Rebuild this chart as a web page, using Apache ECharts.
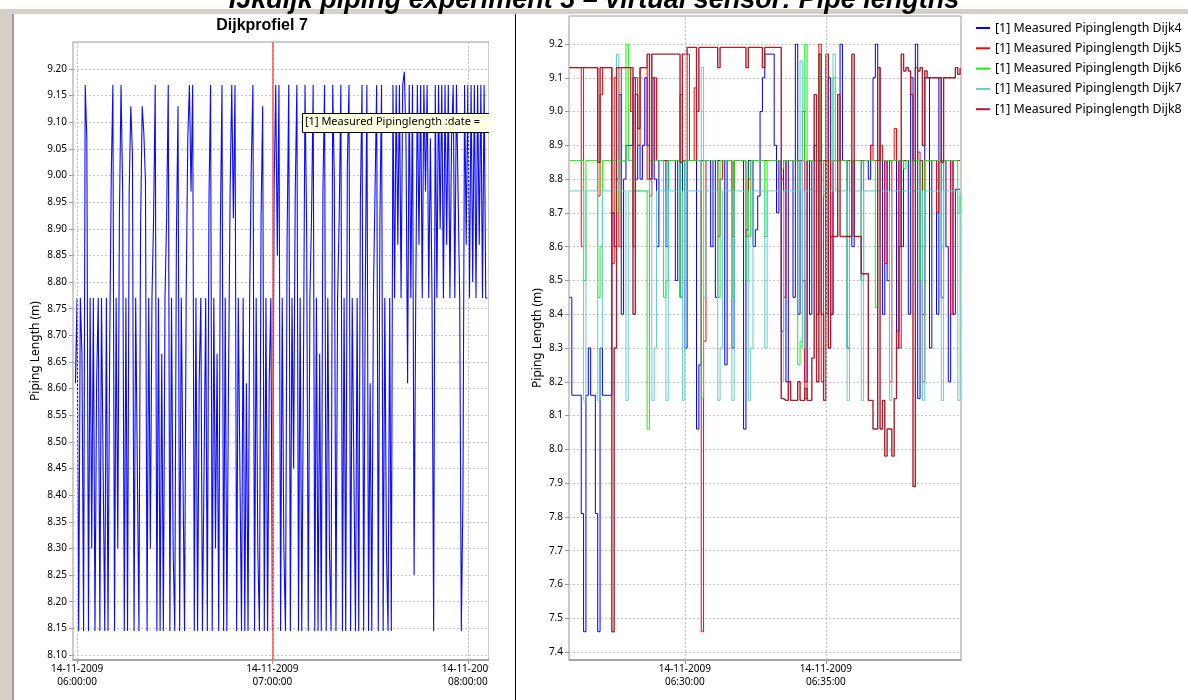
<!DOCTYPE html>
<html><head><meta charset="utf-8">
<script src="https://cdn.jsdelivr.net/npm/echarts@6/dist/echarts.min.js"></script>
<style>html,body{margin:0;padding:0;background:#fff}#c{width:1188px;height:700px}</style>
</head><body><div id="c"></div><script>
// ---------- DATA ----------
const mainTitle = 'IJkdijk piping experiment 3 \u2013 virtual sensor: Pipe lengths';
const leftTitle = 'Dijkprofiel 7';
const yName = 'Piping Length (m)';
const leftSeriesName = '[1] Measured Pipinglength';
const tooltipText = '[1] Measured Pipinglength :date =';
const rightNames = ['[1] Measured Pipinglength Dijk4','[1] Measured Pipinglength Dijk5','[1] Measured Pipinglength Dijk6','[1] Measured Pipinglength Dijk7','[1] Measured Pipinglength Dijk8'];

// left: one sample every 30 s from 05:59:30
const leftValues = [
8.61,8.77,8.145,8.77,8.665,8.145,9.17,9.07,8.145,8.77,8.30,8.77,8.145,8.61,8.77,8.145,8.77,8.45,8.145,8.77,
8.145,8.665,9.00,9.17,8.145,8.77,8.30,8.92,9.17,8.97,8.145,8.77,8.145,8.97,9.13,9.04,8.145,8.77,8.45,8.145,
8.90,9.13,9.08,8.99,8.145,8.77,8.30,8.77,8.92,9.17,8.145,8.77,8.145,8.665,8.145,8.77,8.92,9.17,8.145,8.77,
8.30,8.145,8.88,9.13,8.145,8.77,8.45,8.145,8.77,9.07,9.17,8.97,9.17,8.145,8.77,8.145,8.61,8.77,8.145,8.45,
8.77,8.145,8.95,9.17,8.145,8.77,8.30,8.665,8.145,8.90,9.17,8.145,8.77,8.145,8.61,8.97,9.17,8.92,9.17,8.145,
8.77,8.45,8.145,8.77,8.145,8.61,8.145,8.77,9.02,9.17,8.145,8.77,8.30,8.145,8.92,9.13,8.145,8.77,8.145,8.61,
8.77,8.145,8.97,9.17,8.85,9.17,8.145,8.77,8.30,8.145,8.88,9.17,8.145,8.77,8.45,8.97,9.17,8.145,8.77,8.145,
8.61,9.17,8.90,8.145,8.77,8.92,9.17,8.145,8.77,8.145,8.665,8.145,8.97,9.17,8.145,8.77,8.30,8.145,9.17,8.99,
8.145,8.77,8.92,9.17,8.145,8.77,8.145,9.02,9.17,8.145,8.77,8.45,8.145,8.77,8.145,8.95,9.17,8.145,8.77,9.17,
8.145,8.61,8.145,8.77,8.97,9.17,8.145,8.92,9.17,8.145,8.77,8.30,8.145,8.77,8.145,9.17,8.77,9.17,8.87,9.17,
8.77,9.17,9.195,9.07,8.61,9.17,8.77,9.17,8.25,8.77,9.17,8.87,9.17,8.77,9.17,8.97,9.17,8.77,9.07,8.77,
8.145,9.17,8.77,9.17,8.90,9.17,8.77,9.17,8.87,9.17,8.77,9.07,9.17,8.77,9.17,8.97,8.77,8.145,8.40,9.17,
8.87,9.17,8.77,9.17,8.80,9.17,8.77,9.17,8.87,9.17,8.77,9.17,8.77,8.77
];

// right: one sample every 5 s from 06:25:55
const dijk4 = [
8.45,8.16,8.16,8.16,8.16,7.81,7.46,8.16,8.30,8.16,
8.16,7.81,7.46,8.30,8.16,8.16,8.16,8.16,8.70,8.60,
8.80,9.05,8.40,8.80,8.90,8.90,8.90,9.10,8.80,8.90,
8.80,8.90,9.10,8.90,8.80,9.10,8.80,8.60,8.855,8.855,
8.855,8.60,8.855,8.855,8.855,8.50,8.855,8.45,8.855,8.30,
8.855,8.855,8.855,8.855,8.06,8.25,8.855,8.855,8.855,8.855,
8.60,8.855,8.45,8.855,8.855,8.855,8.25,8.855,8.855,8.30,
8.855,8.855,8.855,8.855,8.06,8.65,8.855,8.855,8.60,8.65,
8.75,9.00,9.10,9.17,9.17,9.17,9.17,8.90,8.70,8.855,
8.35,8.855,8.20,8.855,8.855,8.45,9.20,8.40,8.855,8.50,
8.20,8.855,8.40,8.855,8.90,8.40,8.855,8.855,8.855,8.40,
9.10,8.40,8.855,8.855,8.855,9.20,8.855,8.855,8.30,8.855,
8.60,8.855,8.855,8.855,8.50,8.855,8.855,8.80,8.90,9.10,
9.20,9.13,8.855,8.40,8.855,8.50,8.855,8.855,8.855,8.30,
8.855,8.60,8.855,8.855,8.40,9.10,8.855,9.20,8.15,8.855,
8.40,9.10,9.10,8.30,8.855,8.855,8.40,9.10,8.45,8.855,
8.60,8.20,8.855,8.40,8.77,8.77,8.77];
const dijk5 = [
9.13,9.13,9.13,9.13,9.13,8.60,9.13,9.13,9.13,9.13,
9.13,9.13,8.75,9.05,9.13,9.13,9.13,9.13,8.55,9.10,
9.13,8.60,9.13,9.13,9.13,9.13,9.00,8.60,9.10,8.90,
9.13,9.13,9.13,8.80,8.75,8.855,9.10,8.855,8.855,8.855,
8.855,8.855,8.855,8.855,8.855,8.855,8.855,9.05,8.855,8.855,
9.17,8.855,8.855,9.07,8.855,8.855,7.46,8.32,8.855,8.855,
8.855,8.855,8.855,8.63,8.80,8.855,8.855,8.855,8.855,8.63,
8.855,8.855,8.855,8.855,8.855,8.63,8.80,8.855,8.855,8.855,
8.855,8.855,8.855,8.855,8.855,8.855,8.855,8.855,8.855,8.855,
8.80,8.45,8.855,8.855,8.855,8.855,8.855,8.855,8.855,9.00,
8.15,8.855,8.855,8.855,8.855,8.855,9.20,8.20,8.855,8.855,
8.855,8.40,8.855,8.855,8.855,8.855,8.855,8.855,8.855,8.855,
8.855,8.855,8.855,8.855,8.855,8.855,8.855,8.855,8.90,8.855,
8.855,8.855,8.90,8.855,8.55,8.855,8.20,8.855,8.95,8.855,
8.30,8.855,8.855,8.855,8.855,8.855,8.855,8.855,8.88,8.855,
8.20,8.855,8.855,8.855,8.855,8.855,8.70,8.855,8.855,8.855,
8.855,8.855,8.40,8.855,8.855,8.855,8.855];
const dijk6 = [
8.855,8.855,8.855,8.855,8.855,8.855,8.50,8.855,8.855,8.855,
8.855,8.855,8.45,8.60,8.855,8.855,8.855,8.855,8.855,8.855,
8.70,8.855,8.855,8.855,9.20,8.855,8.855,8.765,8.765,8.765,
8.765,8.765,8.765,8.06,8.855,8.855,8.855,8.855,8.855,8.855,
8.45,8.50,8.855,8.855,8.855,8.855,8.855,8.45,8.50,8.855,
8.855,8.855,8.855,8.855,8.855,8.855,8.15,8.855,8.855,8.855,
8.855,8.855,8.855,8.45,8.855,8.855,8.855,8.855,8.855,8.45,
8.855,8.855,8.855,8.855,8.855,8.50,8.63,8.855,8.855,8.855,
8.855,8.855,8.855,8.63,8.855,8.855,8.855,8.855,8.855,8.855,
8.83,8.855,8.855,8.855,8.855,8.855,8.855,8.25,8.32,8.855,
9.20,8.855,8.855,8.855,8.855,8.855,9.17,8.855,8.75,8.855,
8.855,8.855,9.10,8.855,8.855,8.855,8.855,8.855,8.30,8.855,
8.855,8.855,8.855,8.855,8.50,8.855,8.855,8.855,8.855,8.855,
8.42,8.60,8.855,8.855,8.855,8.855,8.855,8.855,8.855,8.855,
8.855,8.855,8.83,8.855,8.855,8.855,8.855,8.855,8.855,8.50,
8.60,8.855,8.855,8.855,8.855,8.855,8.855,8.855,8.60,8.855,
8.855,8.855,8.855,8.855,8.855,8.70,8.75];
const dijk7 = [
8.765,8.765,8.765,8.765,8.765,8.765,8.145,8.765,8.765,8.765,
8.765,8.765,8.145,8.30,8.765,8.765,8.765,8.765,8.765,8.765,
9.17,8.765,8.765,8.765,8.145,8.765,8.765,8.765,8.765,8.765,
8.765,8.765,8.765,8.765,9.17,8.145,8.30,8.765,8.765,8.765,
8.765,8.145,8.765,8.765,8.765,8.765,8.765,8.765,8.145,8.765,
8.765,8.765,8.765,8.765,8.765,8.765,9.13,8.45,8.765,8.765,
8.765,8.765,8.765,8.145,8.30,8.765,8.765,8.765,8.765,8.145,
8.765,8.765,8.765,8.765,8.765,8.765,8.145,8.30,8.765,8.765,
8.765,8.765,8.765,8.30,8.765,8.765,8.765,8.765,8.765,8.765,
8.20,8.765,8.765,8.765,8.765,8.765,8.765,8.765,9.15,8.30,
8.765,8.765,8.765,8.765,8.765,8.765,8.765,8.765,8.765,8.765,
8.765,8.765,9.17,8.765,8.765,8.765,8.765,8.765,8.145,8.765,
8.765,8.765,8.765,8.765,8.145,8.765,8.765,8.765,8.765,8.765,
8.765,8.765,8.765,8.765,8.765,8.765,8.145,8.765,8.765,8.765,
8.765,8.765,8.765,8.765,8.765,8.765,8.765,8.765,8.765,8.765,
8.145,8.765,8.765,8.765,8.765,8.765,8.765,8.765,8.145,8.765,
8.765,8.765,8.765,8.765,8.765,8.145,8.765];
const dijk8 = [
9.13,9.13,9.13,9.13,9.13,9.13,9.13,9.13,9.13,9.13,
9.13,9.13,8.85,9.13,9.13,9.13,9.13,9.13,7.46,8.30,
9.13,9.13,9.13,9.13,9.13,9.13,9.13,8.40,9.05,8.95,
9.13,9.13,9.13,9.17,8.80,9.17,9.17,9.17,9.17,9.17,
9.17,9.17,9.17,9.17,9.17,9.17,9.17,8.85,9.17,9.17,
9.19,9.19,9.19,9.19,9.00,9.19,9.19,9.19,9.19,9.19,
9.19,9.19,9.19,9.13,9.19,9.19,9.19,9.19,9.19,9.19,
9.19,9.19,9.19,9.19,9.19,9.13,9.19,9.19,9.19,9.19,
9.19,9.19,9.13,9.19,9.19,9.19,9.19,9.19,9.19,9.19,
8.15,8.145,8.145,8.20,8.145,8.145,8.145,8.20,8.145,8.145,
8.18,8.145,8.145,8.27,9.05,8.20,9.17,8.40,8.145,9.17,
8.30,8.63,8.63,8.63,9.05,8.63,8.63,8.63,8.63,8.63,
9.17,8.63,8.63,8.63,8.52,8.52,8.52,8.145,8.145,8.06,
8.06,9.13,8.06,8.145,7.98,8.06,8.06,7.98,8.15,8.35,
8.60,9.17,9.12,9.13,9.12,9.05,7.89,9.13,9.12,9.13,
8.90,9.12,9.10,9.10,9.10,9.10,9.10,9.10,8.85,9.10,
9.10,9.10,9.10,9.10,9.13,9.11,9.13];
const rightValues = [dijk4, dijk5, dijk6, dijk7, dijk8];
const rightColors = ['#0000ff', '#ff0000', '#00ff00', '#66cccc', '#a8202e'];
const rightWidths = [1, 1, 1, 1, 1.4];

// ---------- helpers ----------
const T = (h, m, s) => new Date(2009, 10, 14, h, m, s).getTime();
const leftStart = T(5, 59, 30), leftStep = 30000;
const rightStart = T(6, 25, 55), rightStep = 5000;
const leftTicks = [T(6, 0, 0), T(7, 0, 0), T(8, 0, 0)];
const rightTicks = [T(6, 30, 0), T(6, 35, 0)];
const cursorTime = T(7, 0, 0);
const toPairs = (start, step, vals) => vals.map((v, i) => [start + i * step, v]);
const p2 = n => String(n).padStart(2, '0');
const fmtTime = v => { const d = new Date(v); return p2(d.getDate()) + '-' + p2(d.getMonth() + 1) + '-' + d.getFullYear() + '\n' + p2(d.getHours()) + ':' + p2(d.getMinutes()) + ':' + p2(d.getSeconds()); };

const FONT = 'Noto Sans';
const grey = '#999999';
const dottedStyle = { color: '#c4c4c4', type: [2, 2], width: 1 };

const L = { left: 73, width: 416, frameTop: 42, frameH: 618, top: 69, h: 586, min: T(5, 58, 45), max: T(8, 6, 30) };
const R = { left: 569, width: 392, frameTop: 16, frameH: 644, top: 44, h: 608, min: T(6, 25, 54), max: T(6, 39, 47) };

function frameX(cfg, gi, ticks) {
  return { type: 'value', gridIndex: gi, min: cfg.min, max: cfg.max, scale: true,
    axisLine: { show: true, onZero: false, lineStyle: { color: grey, width: 1.5 } },
    axisTick: { show: true, length: 4, lineStyle: { color: grey }, customValues: ticks },
    splitLine: { show: false },
    axisLabel: { customValues: ticks, formatter: fmtTime, color: '#000', fontFamily: FONT, fontSize: 10, lineHeight: 13, margin: 3 } };
}
function dataX(cfg, gi) { return { type: 'value', gridIndex: gi, min: cfg.min, max: cfg.max, scale: true, show: false }; }
function frameY(gi, gap) {
  return { type: 'value', gridIndex: gi, min: 0, max: 1, show: true,
    name: yName, nameLocation: 'middle', nameRotate: 90, nameGap: gap,
    nameTextStyle: { fontFamily: FONT, fontSize: 12, color: '#000' },
    axisLine: { show: false }, axisTick: { show: false }, axisLabel: { show: false }, splitLine: { show: false } };
}
function dataY(gi, min, max, iv, dec) {
  return { type: 'value', gridIndex: gi, min, max, interval: iv,
    axisLine: { show: false }, axisTick: { show: true, length: 4, lineStyle: { color: grey } },
    splitLine: { show: true, lineStyle: dottedStyle },
    axisLabel: { formatter: v => v.toFixed(dec), color: '#000', fontFamily: FONT, fontSize: 10, margin: 6 } };
}
const vLines = ticks => ({ silent: true, symbol: 'none', label: { show: false }, lineStyle: dottedStyle, data: ticks.map(t => ({ xAxis: t })) });

const series = [
  { type: 'line', xAxisIndex: 0, yAxisIndex: 0, data: [], silent: true, markLine: vLines(leftTicks) },
  { type: 'line', name: leftSeriesName, xAxisIndex: 1, yAxisIndex: 1, step: 'end', showSymbol: false, symbol: 'none',
    lineStyle: { color: '#0a0aff', width: 1.1 }, itemStyle: { color: '#0a0aff' }, data: toPairs(leftStart, leftStep, leftValues) },
  { type: 'line', xAxisIndex: 0, yAxisIndex: 0, data: [], silent: true, z: 5,
    markLine: { silent: true, symbol: 'none', label: { show: false }, lineStyle: { color: '#ff5050', type: 'solid', width: 1.5 }, data: [{ xAxis: cursorTime }] } },
  { type: 'line', xAxisIndex: 2, yAxisIndex: 2, data: [], silent: true, markLine: vLines(rightTicks) }
];
rightNames.forEach((n, k) => series.push({ type: 'line', name: n, xAxisIndex: 3, yAxisIndex: 3, step: 'end', showSymbol: false, symbol: 'none',
  lineStyle: { color: rightColors[k], width: rightWidths[k] }, itemStyle: { color: rightColors[k] }, data: toPairs(rightStart, rightStep, rightValues[k]) }));

const option = {
  animation: false,
  backgroundColor: '#ffffff',
  grid: [
    { left: L.left, top: L.frameTop, width: L.width, height: L.frameH, show: true, borderColor: grey, borderWidth: 1 },
    { left: L.left, top: L.top, width: L.width, height: L.h, show: false },
    { left: R.left, top: R.frameTop, width: R.width, height: R.frameH, show: true, borderColor: grey, borderWidth: 1 },
    { left: R.left, top: R.top, width: R.width, height: R.h, show: false }
  ],
  xAxis: [frameX(L, 0, leftTicks), dataX(L, 1), frameX(R, 2, rightTicks), dataX(R, 3)],
  yAxis: [frameY(0, 31), dataY(1, 8.1, 9.2, 0.05, 2), frameY(2, 25), dataY(3, 7.4, 9.2, 0.1, 1)],
  legend: { data: rightNames, orient: 'vertical', left: 976, top: 22, padding: 0, itemWidth: 14, itemHeight: 2, itemGap: 8.3, icon: 'rect',
    textStyle: { fontFamily: FONT, fontSize: 12.4, color: '#000' } },
  series,
  graphic: [
    { type: 'rect', z: 100, shape: { x: 0, y: 9, width: 1188, height: 5 }, style: { fill: '#d4d0c8' } },
    { type: 'rect', z: 100, shape: { x: 0, y: 9, width: 12, height: 691 }, style: { fill: '#d4d0c8' } },
    { type: 'rect', z: 100, shape: { x: 12, y: 14, width: 2, height: 686 }, style: { fill: '#a0a0a0' } },
    { type: 'rect', z: 100, shape: { x: 489, y: 14, width: 26, height: 686 }, style: { fill: '#ffffff' } },
    { type: 'rect', z: 100, shape: { x: 515, y: 14, width: 1, height: 686 }, style: { fill: '#000000' } },
    { type: 'text', z: 101, x: 594, y: -13, style: { text: mainTitle, font: 'italic bold 27px "Liberation Sans"', fill: '#000', textAlign: 'center' } },
    { type: 'text', z: 101, x: 262, y: 18, style: { text: leftTitle, font: 'bold 16px "Liberation Sans"', fill: '#000', textAlign: 'center' } },
    { type: 'rect', z: 101, shape: { x: 302.5, y: 113.5, width: 200, height: 19 }, style: { fill: '#ffffe1', stroke: '#000', lineWidth: 1 } },
    { type: 'text', z: 102, x: 305, y: 116, style: { text: tooltipText, font: '11px "Noto Sans"', fill: '#000' } },
    { type: 'rect', z: 103, shape: { x: 489, y: 100, width: 26, height: 40 }, style: { fill: '#ffffff' } }
  ]
};
echarts.init(document.getElementById('c'), null, { renderer: 'canvas' }).setOption(option);
</script></body></html>
